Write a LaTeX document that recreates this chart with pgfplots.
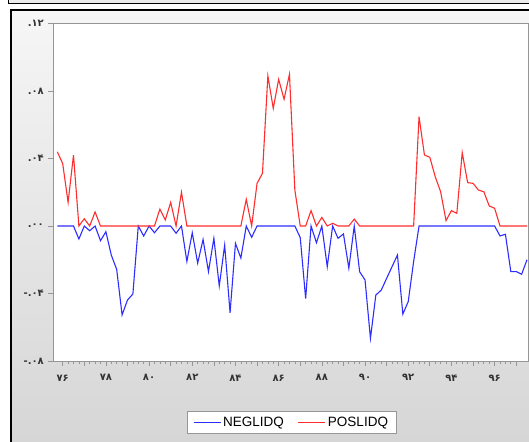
\documentclass[border=0pt]{standalone}
\usepackage{fontspec}
\setmainfont{Liberation Sans}
\newfontfamily\fa{DejaVu Sans}
\usepackage{pgfplots}
\usepackage{pgfplotstable}
\pgfplotsset{compat=1.18}
\definecolor{bgtop}{RGB}{246,246,246}
\definecolor{bgbot}{RGB}{214,214,214}
\definecolor{axgray}{RGB}{150,150,150}
\definecolor{eblue}{RGB}{45,45,255}
\definecolor{ered}{RGB}{255,45,45}
\pgfplotstableread{
t neg pos
75.75 0 0.044
76.00 0 0.037
76.25 0 0.014
76.50 0 0.042
76.75 -0.0077 0
77.00 0 0.0043
77.25 -0.0028 0
77.50 0 0.0083
77.75 -0.0087 0
78.00 -0.0034 0
78.25 -0.0172 0
78.50 -0.0257 0
78.75 -0.0527 0
79.00 -0.0439 0
79.25 -0.0403 0
79.50 0 0
79.75 -0.0059 0
80.00 0 0
80.25 -0.004 0
80.50 0 0.010
80.75 0 0.0036
81.00 0 0.014
81.25 -0.0043 0
81.50 0 0.020
81.75 -0.021 0
82.00 -0.004 0
82.25 -0.022 0
82.50 -0.008 0
82.75 -0.027 0
83.00 -0.0073 0
83.25 -0.0355 0
83.50 -0.0113 0
83.75 -0.0514 0
84.00 -0.0103 0
84.25 -0.019 0
84.50 0 0.0158
84.75 -0.0067 0
85.00 0 0.0253
85.25 0 0.0312
85.50 0 0.0889
85.75 0 0.0697
86.00 0 0.0869
86.25 0 0.0751
86.50 0 0.0899
86.75 0 0.0213
87.00 -0.0069 0
87.25 -0.043 0
87.50 0 0.0091
87.75 -0.0099 0
88.00 0 0.0051
88.25 -0.0241 0
88.50 0 0.0016
88.75 -0.0073 0
89.00 -0.0047 0
89.25 -0.025 0
89.50 0 0.0041
89.75 -0.0271 0
90.00 -0.032 0
90.25 -0.0666 0
90.50 -0.0409 0
90.75 -0.038 0
91.00 -0.031 0
91.25 -0.0241 0
91.50 -0.0172 0
91.75 -0.0522 0
92.00 -0.0448 0
92.25 -0.021 0
92.50 0 0.0648
92.75 0 0.0421
93.00 0 0.0407
93.25 0 0.0292
93.50 0 0.0203
93.75 0 0.0032
94.00 0 0.0091
94.25 0 0.0075
94.50 0 0.0435
94.75 0 0.0257
95.00 0 0.0253
95.25 0 0.0213
95.50 0 0.0203
95.75 0 0.0119
96.00 0 0.0105
96.25 -0.0059 0
96.50 -0.0049 0
96.75 -0.027 0
97.00 -0.027 0
97.25 -0.0286 0
97.50 -0.020 0
}\datatable
\begin{document}
\begin{tikzpicture}[x=1pt,y=1pt]
\fill[white] (0,0) rectangle (529,-441);
\fill[gray!15] (8.5,0) rectangle (540,-3.3);
\draw[black,line width=1.2pt] (8.5,0) -- (8.5,-3.3) -- (540,-3.3);
\shade[top color=bgtop,bottom color=bgbot] (11,-10) rectangle (540,-441);
\draw[black,line width=2pt] (11,-470) -- (11,-10) -- (545,-10);
\begin{axis}[
  scale only axis, width=474.7pt, height=337.5pt,
  at={(53.3pt,-361pt)}, anchor=south west,
  xmin=75.565, xmax=97.546, ymin=-0.08, ymax=0.12,
  axis background/.style={fill=white},
  axis line style={axgray, line width=0.8pt},
  tick style={axgray, line width=0.7pt},
  tick align=outside,
  xtick pos=left, ytick pos=left,
  major tick length=5pt, minor tick length=3pt,
  xtick={76,77,...,97},
  minor x tick num=3,
  xticklabels={۷۶,,۷۸,,۸۰,,۸۲,,۸۴,,۸۶,,۸۸,,۹۰,,۹۲,,۹۴,,۹۶,},
  ytick={-0.08,-0.04,0,0.04,0.08,0.12},
  yticklabels={-.۰۸,-.۰۴,.۰۰,.۰۴,.۰۸,.۱۲},
  tick label style={font=\fa\bfseries\fontsize{10}{11}\selectfont, text=black!80},
  xticklabel style={yshift=-5pt},
  yticklabel style={xshift=-1pt},
  legend style={at={(0.5018,-0.148)}, anchor=north, legend columns=2,
    draw=axgray, fill=white, font=\fontsize{13.5}{15}\selectfont,
    inner xsep=6pt, inner ysep=3.5pt,
    /tikz/every even column/.append style={column sep=12pt}},
  legend cell align=left,
  legend image code/.code={\draw[#1] (0pt,0pt) -- (27pt,0pt);},
]
\addplot[eblue, line width=1.1pt] table[x=t, y=neg] {\datatable};
\addlegendentry{NEGLIDQ}
\addplot[ered, line width=1.1pt] table[x=t, y=pos] {\datatable};
\addlegendentry{POSLIDQ}
\end{axis}
\pgfresetboundingbox
\useasboundingbox (0,0) rectangle (529,-441);
\end{tikzpicture}
\end{document}
